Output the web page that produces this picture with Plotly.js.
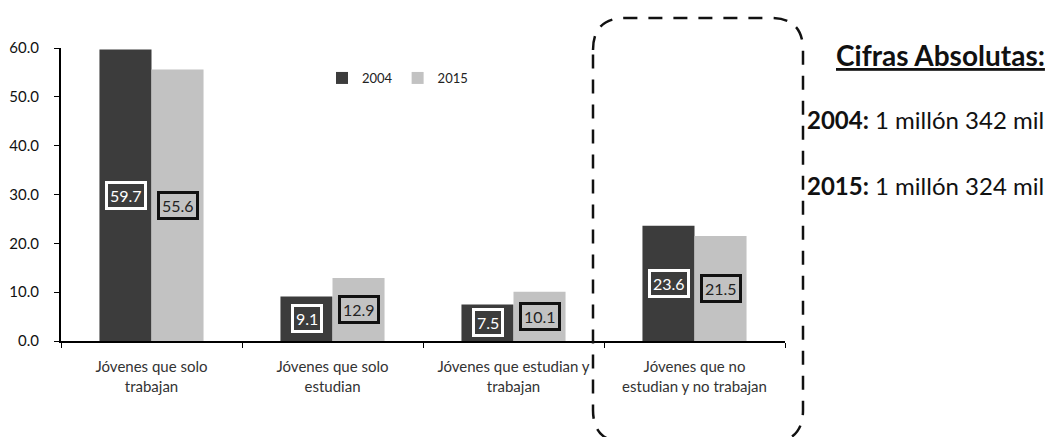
<!DOCTYPE html>
<html>
<head>
<meta charset="utf-8">
<script src="https://cdn.plot.ly/plotly-3.0.1.min.js"></script>
<style>html,body{margin:0;padding:0;background:#fff;}#chart{width:1049px;height:437px;}</style>
</head>
<body>
<div id="chart"></div>
<script>
const categories = ["Jóvenes que solo<br>trabajan", "Jóvenes que solo<br>estudian", "Jóvenes que estudian y<br>trabajan", "Jóvenes que no<br>estudian y no trabajan"];
const values2004 = [59.7, 9.1, 7.5, 23.6];
const values2015 = [55.6, 12.9, 10.1, 21.5];
const seriesNames = ["2004", "2015"];
const yTicks = [0, 10, 20, 30, 40, 50, 60];

const FONT = "Lato, 'Open Sans', sans-serif";
const W = 1049, H = 437;
const M = {l: 61, r: 264, t: 48, b: 96};
const PW = W - M.l - M.r, PH = H - M.t - M.b;
const px = X => (X - M.l) / PW;
const py = Y => (H - M.b - Y) / PH;

const DARK = "#3c3c3c", LIGHT = "#c2c2c2";

const traces = [
  {type: "bar", name: seriesNames[0], x: categories, y: values2004,
   marker: {color: DARK}, hoverinfo: "skip"},
  {type: "bar", name: seriesNames[1], x: categories, y: values2015,
   marker: {color: LIGHT}, hoverinfo: "skip"}
];

const annotations = [];
categories.forEach((c, i) => {
  annotations.push({x: c, y: values2004[i] / 2, xref: "x", yref: "y", xshift: -26,
    text: values2004[i].toFixed(1), showarrow: false,
    font: {family: FONT, size: 16, color: "#ffffff"},
    bgcolor: DARK, bordercolor: "#ffffff", borderwidth: 3, borderpad: 2});
  annotations.push({x: c, y: values2015[i] / 2, xref: "x", yref: "y", xshift: 26,
    text: values2015[i].toFixed(1), showarrow: false,
    font: {family: FONT, size: 16, color: "#222222"},
    bgcolor: LIGHT, bordercolor: "#111111", borderwidth: 3, borderpad: 2});
});

annotations.push({xref: "paper", yref: "paper", x: px(834), y: py(55), xanchor: "left", yanchor: "middle",
  text: "<b><u>Cifras Absolutas:</u></b>", showarrow: false,
  font: {family: FONT, size: 28, color: "#111"}});
annotations.push({xref: "paper", yref: "paper", x: px(805), y: py(119), xanchor: "left", yanchor: "middle",
  text: "<b>2004:</b> 1 millón 342 mil", showarrow: false,
  font: {family: FONT, size: 24, color: "#111"}});
annotations.push({xref: "paper", yref: "paper", x: px(805), y: py(185), xanchor: "left", yanchor: "middle",
  text: "<b>2015:</b> 1 millón 324 mil", showarrow: false,
  font: {family: FONT, size: 24, color: "#111"}});

// dashed rounded rectangle
const L = 593, R = 803, T = 18, B = 442, r = 32;
const P = (X, Y) => px(X) + "," + py(Y);
const path = "M" + P(L, T + r) + " Q" + P(L, T) + " " + P(L + r, T) +
  " L" + P(R - r, T) + " Q" + P(R, T) + " " + P(R, T + r) +
  " L" + P(R, B - r) + " Q" + P(R, B) + " " + P(R - r, B) +
  " L" + P(L + r, B) + " Q" + P(L, B) + " " + P(L, B - r) + " Z";

const layout = {
  width: W, height: H,
  margin: M,
  paper_bgcolor: "#ffffff", plot_bgcolor: "#ffffff",
  barmode: "group", bargap: 0.425, bargroupgap: 0,
  font: {family: FONT, color: "#222"},
  showlegend: true,
  legend: {orientation: "h", x: px(322), y: py(78), xanchor: "left", yanchor: "middle",
    font: {family: FONT, size: 13, color: "#222"}, itemwidth: 30, bgcolor: "rgba(0,0,0,0)"},
  xaxis: {type: "category", showline: true, linecolor: "#000", linewidth: 2,
    ticks: "outside", tickson: "boundaries", ticklen: 5, tickcolor: "#000",
    ticklabelstandoff: 11,
    tickfont: {family: FONT, size: 15, color: "#333"}, showgrid: false, zeroline: false, fixedrange: true},
  yaxis: {range: [0, 60], tickvals: yTicks, ticktext: yTicks.map(v => v.toFixed(1)),
    showline: true, linecolor: "#000", linewidth: 2, ticks: "outside", ticklen: 5, tickcolor: "#000",
    ticklabelstandoff: 12,
    tickfont: {family: FONT, size: 15, color: "#111"}, showgrid: false, zeroline: false, fixedrange: true},
  annotations: annotations,
  shapes: [{type: "path", xref: "paper", yref: "paper", path: path,
    line: {color: "#111", width: 2.5, dash: "14px,11px"}, fillcolor: "rgba(0,0,0,0)", layer: "above"}]
};

Plotly.newPlot("chart", traces, layout, {displayModeBar: false, staticPlot: true});
</script>
</body>
</html>
